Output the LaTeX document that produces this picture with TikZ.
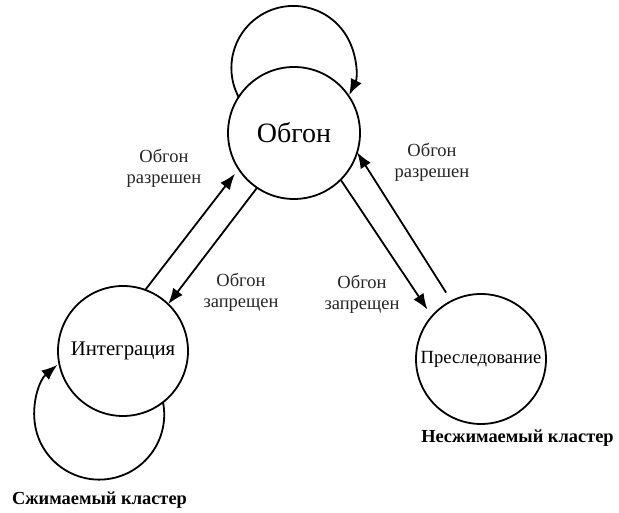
\documentclass[tikz,border=0pt]{standalone}
\usepackage{fontspec}
\setmainfont{Liberation Serif}
\usetikzlibrary{arrows.meta}
\begin{document}
\begin{tikzpicture}[x=1pt,y=1pt,
  state/.style={circle, draw, line width=1.8pt, inner sep=0pt, outer sep=0pt},
  conn/.style={line width=1.8pt, -{Latex[length=16pt,width=12pt]}},
  lbl/.style={align=center, font=\fontsize{18.5}{21}\selectfont, color=black!85},
  cluster/.style={font=\fontsize{18.4}{21}\selectfont\bfseries}]
\useasboundingbox (0,0) rectangle (619,513);
\node[state, minimum size=132pt, font=\fontsize{28}{32}\selectfont] (O) at (294,380) {Обгон};
\node[state, minimum size=130pt, font=\fontsize{20.8}{24}\selectfont] (I) at (123,162) {Интеграция};
\node[state, minimum size=130pt, font=\fontsize{18.6}{22}\selectfont] (P) at (481,154) {Преследование};
% self loops
\draw[conn] (O.147) arc[start angle=208, end angle=-26, radius=62];
\draw[conn] (I.-52) arc[start angle=11, end angle=-230, radius=65];
% transitions
\draw[conn, shorten >=6pt] (I.70) -- (O.213);
\draw[conn] (O.236) -- (I.46);
\draw[conn, shorten >=8pt] (O.-45) -- (P.139);
\draw[conn, shorten <=10pt] (P.117) -- (O.-17);
% labels
\node[lbl] (l1) at (164,344.5) {Обгон\\разрешен};
\node[lbl] (l2) at (241,221) {Обгон\\запрещен};
\node[lbl] (l3) at (432,350.5) {Обгон\\разрешен};
\node[lbl] (l4) at (362,219) {Обгон\\запрещен};
\node[cluster] (c1) at (517.5,75) {Несжимаемый кластер};
\node[cluster] (c2) at (99.5,13) {Сжимаемый кластер};
\end{tikzpicture}
\end{document}
